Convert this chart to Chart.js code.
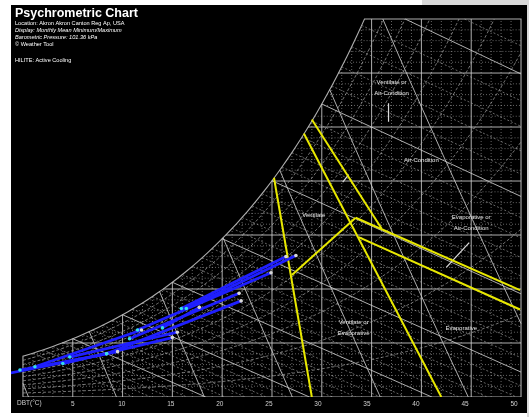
<!DOCTYPE html>
<html>
<head>
<meta charset="utf-8">
<script src="https://cdn.jsdelivr.net/npm/chart.js@4/dist/chart.umd.min.js"></script>
<style>
  html, body { margin: 0; padding: 0; background: #fff; }
  #wrap { width: 529px; height: 417px; }
</style>
</head>
<body>
<div id="wrap"><canvas id="chart" width="529" height="417"></canvas></div>
<script>
// Psychrometric chart - Akron Canton, monthly mean min/max, active cooling zones

const PRESSURE = 101.36; // kPa
const tickValues = [5, 10, 15, 20, 25, 30, 35, 40, 45, 50];
const dbtMajor = [5, 10, 15, 20, 25, 30, 35, 40, 45];
const humMajor = [5, 10, 15, 20, 25, 30];
const rhCurves = [0.1, 0.2, 0.3, 0.4, 0.5, 0.6, 0.7, 0.8, 0.9];
const wetBulbMajor = [0, 5, 10, 15, 20, 25, 30, 35];
const volumeLines = [0.775, 0.8, 0.825, 0.85, 0.875, 0.9, 0.925];

// monthly segments: [Tmin, Wmin, Tmax, Wmax]  (°C, g/kg)
const monthSegments = [
  [-3.0, 1.9, 9.5, 4.2],
  [-0.3, 2.5, 8.4, 4.0],
  [1.2, 2.8, 11.9, 6.2],
  [4.0, 3.1, 15.0, 5.5],
  [4.7, 3.7, 15.5, 6.0],
  [8.4, 4.0, 21.9, 8.9],
  [10.7, 5.4, 21.7, 9.6],
  [11.5, 6.2, 24.9, 11.5],
  [15.9, 8.2, 26.4, 13.0],
  [16.4, 8.2, 27.4, 13.1],
  [14.0, 6.4, 17.7, 8.3]
];

// cooling zone boundaries (°C, g/kg)
const zoneLines = [
  [[25.2, 20.3], [29.0, 0]],
  [[27.0, 11.3], [33.4, 16.6]],
  [[33.4, 16.6], [49.9, 9.9]],
  [[28.2, 24.4], [42.0, 0]],
  [[29.0, 25.7], [36.0, 15.6]],
  [[33.7, 14.8], [49.9, 8.1]]
];

const zoneLabels = [
  { text: ['Ventilate or', 'Air-Condition'], t: 37.0, w: 29.1 },
  { text: ['Air-Condition'], t: 40.0, w: 21.9 },
  { text: ['Ventilate'], t: 29.2, w: 16.8 },
  { text: ['Evaporative or', 'Air-Condition'], t: 45.0, w: 16.6 },
  { text: ['Ventilate or', 'Evaporative'], t: 33.2, w: 6.9 },
  { text: ['Evaporative'], t: 44.0, w: 6.4 }
];

const leaderLines = [
  [[36.7, 27.2], [36.7, 25.5]],
  [[32.1, 19.9], [32.7, 20.6]],
  [[42.5, 12.0], [44.8, 14.3]]
];

// --- psychrometric helpers ---
function pws(t) { return 0.61094 * Math.exp(17.625 * t / (t + 243.04)); }
function humRatio(t, rh) { const p = rh * pws(t); return 622 * p / (PRESSURE - p); }
function satTemp(w) {
  let lo = -10, hi = 60;
  for (let i = 0; i < 50; i++) {
    const mid = (lo + hi) / 2;
    if (humRatio(mid, 1) < w) lo = mid; else hi = mid;
  }
  return (lo + hi) / 2;
}
const W_TOP = 35, T_MAX = 50;
const tTop = satTemp(W_TOP);

function curve(fn, t0, t1, step) {
  const pts = [];
  for (let t = t0; t < t1; t += step) pts.push({ x: t, y: fn(t) });
  pts.push({ x: t1, y: fn(t1) });
  return pts;
}

const datasets = [];
function addLine(points, color, width, dash, order) {
  datasets.push({
    data: points, showLine: true, borderColor: color, borderWidth: width,
    borderDash: dash || [], pointRadius: 0, fill: false, order: order == null ? 10 : order,
    tension: 0
  });
}

const SOLID = 'rgba(205,205,205,0.85)';
const DOT = 'rgba(170,170,170,0.75)';

// minor dotted verticals / horizontals
for (let t = 1; t < 50; t++) {
  if (t % 5 === 0) continue;
  addLine([{ x: t, y: 0 }, { x: t, y: Math.min(humRatio(t, 1), W_TOP) }], DOT, 0.8, [1, 2]);
}
for (let w = 1; w < 35; w++) {
  if (w % 5 === 0) continue;
  addLine([{ x: Math.max(satTemp(w), 0), y: w }, { x: T_MAX, y: w }], DOT, 0.8, [1, 2]);
}
// relative humidity curves
rhCurves.forEach(rh => {
  let tEnd = T_MAX;
  if (humRatio(T_MAX, rh) > W_TOP) {
    let lo = 0, hi = 50;
    for (let i = 0; i < 40; i++) { const m = (lo + hi) / 2; if (humRatio(m, rh) < W_TOP) lo = m; else hi = m; }
    tEnd = (lo + hi) / 2;
  }
  addLine(curve(t => humRatio(t, rh), 0, tEnd, 0.5), DOT, 0.9, [3, 2]);
});
// wet bulb lines
function wbLine(twb) {
  const ws = humRatio(twb, 1) / 1000;
  return tdb => 1000 * ((2501 - 2.326 * twb) * ws - 1.006 * (tdb - twb)) / (2501 + 1.86 * tdb - 4.186 * twb);
}
for (let twb = 1; twb <= 40; twb++) {
  const f = wbLine(twb);
  let t0 = twb;
  if (f(t0) > W_TOP) { let lo = twb, hi = 50; for (let i = 0; i < 40; i++) { const m = (lo + hi) / 2; if (f(m) > W_TOP) lo = m; else hi = m; } t0 = (lo + hi) / 2; }
  let t1 = T_MAX;
  if (f(T_MAX) < 0) { let lo = twb, hi = 50; for (let i = 0; i < 40; i++) { const m = (lo + hi) / 2; if (f(m) > 0) lo = m; else hi = m; } t1 = (lo + hi) / 2; }
  if (t0 >= T_MAX) continue;
  const major = wetBulbMajor.includes(twb);
  addLine([{ x: t0, y: f(t0) }, { x: t1, y: f(t1) }], major ? SOLID : DOT, major ? 1 : 0.8, major ? [] : [2, 2]);
}
// specific volume lines
volumeLines.forEach(v => {
  const f = t => (v * PRESSURE / (0.287 * (t + 273.15)) - 1) / 1.6078 * 1000;
  let lo = -5, hi = 60;
  for (let i = 0; i < 50; i++) { const m = (lo + hi) / 2; if (f(m) > Math.min(humRatio(m, 1), W_TOP)) lo = m; else hi = m; }
  const t0 = Math.max((lo + hi) / 2, 0);
  const t1 = Math.min(v * PRESSURE / 0.287 - 273.15, T_MAX);
  if (t0 >= T_MAX) return;
  addLine(curve(f, t0, t1, 1), SOLID, 1);
});
// major grid
dbtMajor.forEach(t => addLine([{ x: t, y: 0 }, { x: t, y: Math.min(humRatio(t, 1), W_TOP) }], SOLID, 1));
humMajor.forEach(w => addLine([{ x: satTemp(w), y: w }, { x: T_MAX, y: w }], SOLID, 1));
// outline
addLine([{ x: 0, y: 0 }, { x: 0, y: humRatio(0, 1) }].concat(curve(t => humRatio(t, 1), 0, tTop, 0.5))
  .concat([{ x: T_MAX, y: W_TOP }, { x: T_MAX, y: 0 }, { x: 0, y: 0 }]), SOLID, 1.1);

// zone boundaries
zoneLines.forEach(l => addLine(l.map(p => ({ x: p[0], y: p[1] })), '#e8e800', 2, [], 3));
leaderLines.forEach(l => addLine(l.map(p => ({ x: p[0], y: p[1] })), '#dddddd', 1.2, [], 3));

// monthly min/max lines
monthSegments.forEach(s => addLine([{ x: s[0], y: s[1] }, { x: s[2], y: s[3] }], '#1f1fff', 2.8, [], 2));
datasets.push({
  data: monthSegments.map(s => ({ x: s[0], y: s[1] })), showLine: false,
  pointRadius: 1.8, pointBackgroundColor: '#33ddee', pointBorderWidth: 0, order: 1
});
datasets.push({
  data: monthSegments.map(s => ({ x: s[2], y: s[3] })), showLine: false,
  pointRadius: 1.8, pointBackgroundColor: '#d8d8d8', pointBorderWidth: 0, order: 1
});

const FONT = '"Liberation Sans", Arial, sans-serif';

const backdrop = {
  id: 'backdrop',
  beforeDraw(chart) {
    const c = chart.ctx;
    c.save();
    c.fillStyle = '#d9d9d9';
    c.fillRect(422, 0, 107, 5);
    c.fillRect(527, 0, 2, 417);
    c.fillStyle = '#000';
    c.fillRect(11, 5, 516, 408);
    c.restore();
  },
  afterDraw(chart) {
    const c = chart.ctx, xs = chart.scales.x, ys = chart.scales.y;
    c.save();
    c.fillStyle = '#fff';
    c.textBaseline = 'alphabetic';
    c.font = 'bold 12.5px ' + FONT;
    c.fillText('Psychrometric Chart', 15, 17);
    c.font = '5.6px ' + FONT;
    c.fillText('Location: Akron Akron Canton Reg Ap, USA', 15, 25);
    c.font = 'italic 5.6px ' + FONT;
    c.fillText('Display: Monthly Mean Minimum/Maximum', 15, 32);
    c.fillText('Barometric Pressure: 101.36 kPa', 15, 39);
    c.font = '5.6px ' + FONT;
    c.fillText('\u00a9 Weather Tool', 15, 46);
    c.fillText('HILITE: Active Cooling', 15, 62);

    c.font = '6px ' + FONT;
    c.fillStyle = '#e8e8e8';
    c.textAlign = 'center';
    c.textBaseline = 'middle';
    zoneLabels.forEach(l => {
      const x = xs.getPixelForValue(l.t), y = ys.getPixelForValue(l.w);
      l.text.forEach((s, i) => c.fillText(s, x, y + i * 10.5));
    });
    c.textAlign = 'left';
    c.font = '6.5px ' + FONT;
    c.fillStyle = '#cfcfcf';
    c.fillText('DBT(\u00b0C)', 17, 403);
    c.restore();
  }
};

new Chart(document.getElementById('chart'), {
  type: 'scatter',
  data: { datasets },
  options: {
    responsive: false,
    animation: false,
    devicePixelRatio: 1,
    layout: { padding: { left: 11, right: 2, top: 5, bottom: 0 } },
    plugins: { legend: { display: false }, tooltip: { enabled: false } },
    scales: {
      x: { type: 'linear', min: -1.2, max: 50.4, display: false },
      xt: {
        type: 'linear', position: 'bottom', min: -1.3, max: 51.12,
        grid: { display: false, drawTicks: false, tickLength: 0 }, border: { display: false },
        afterBuildTicks: s => { s.ticks = tickValues.map(v => ({ value: v })); },
        afterFit: s => { s.height = 20; },
        ticks: { color: '#cfcfcf', font: { size: 6.5, family: FONT }, padding: 3, maxRotation: 0, autoSkip: false }
      },
      y: { type: 'linear', min: 0, max: 36.3, display: false }
    }
  },
  plugins: [backdrop]
});
</script>
</body>
</html>
